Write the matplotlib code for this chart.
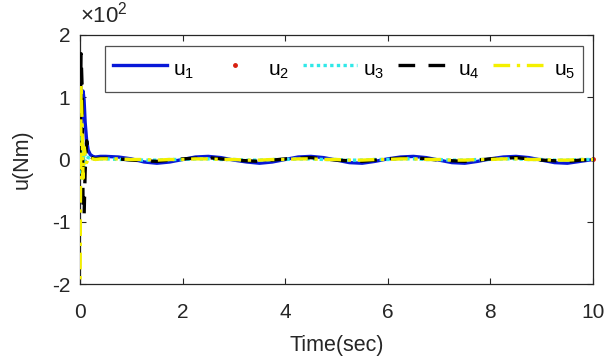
import matplotlib
matplotlib.use("Agg")
import matplotlib.pyplot as plt
import numpy as np

plt.rcParams['font.family'] = ['Liberation Sans', 'DejaVu Sans']
plt.rcParams['mathtext.fontset'] = 'custom'
plt.rcParams['mathtext.rm'] = 'Liberation Sans'
plt.rcParams['mathtext.it'] = 'Liberation Sans'
plt.rcParams['axes.unicode_minus'] = False

# time samples (sec)
t = [0, 0.02, 0.04, 0.06, 0.08, 0.10, 0.13, 0.16, 0.20, 0.25, 0.30, 0.40,
     0.5, 0.75, 1.0, 1.25, 1.5, 1.75, 2.0, 2.25, 2.5, 2.75, 3.0, 3.25, 3.5, 3.75,
     4.0, 4.25, 4.5, 4.75, 5.0, 5.25, 5.5, 5.75, 6.0, 6.25, 6.5, 6.75, 7.0, 7.25,
     7.5, 7.75, 8.0, 8.25, 8.5, 8.75, 9.0, 9.25, 9.5, 9.75, 10.0]

# control torques (Nm)
u1 = [0, 30, 80, 110, 95, 60, 30, 15, 8, 5, 4, 5,
      5, 4, 1, -4, -6, -4, 0, 4, 5, 3, -1, -4, -6, -4,
      0, 4, 5, 3, -1, -5, -6, -3, 1, 4, 5, 3, -1, -5,
      -6, -3, 1, 4, 5, 3, -1, -5, -6, -3, 0]
u2 = [0, 20, 10, -10, 5, 2, 1, 0, 0, 0, 0, 0,
      0, 0, 0, 0, 0, 0, 0, 0, 0, 0, 0, 0, 0, 0,
      0, 0, 0, 0, 0, 0, 0, 0, 0, 0, 0, 0, 0, 0,
      0, 0, 0, 0, 0, 0, 0, 0, 0, 0, 1]
u3 = [0, 50, -30, 20, -15, 10, 5, 3, 2, 1, 1, 1,
      1, 0, 0, -1, -1, 0, 0, 1, 1, 0, 0, -1, -1, 0,
      0, 1, 1, 0, 0, -1, -1, 0, 0, 1, 1, 0, 0, -1,
      -1, 0, 0, 1, 1, 0, 0, -1, -1, 0, 0]
u4 = [0, 170, 120, -80, -90, -20, 30, 15, 5, 2, 1, 2,
      2, 1, -1, -2, -3, -1, 1, 2, 3, 1, -1, -2, -3, -1,
      1, 2, 3, 1, -1, -2, -3, -1, 1, 2, 3, 1, -1, -2,
      -3, -1, 1, 2, 3, 1, -1, -2, -3, -1, 0]
u5 = [-230, 120, 60, -30, 20, 10, -5, 3, 2, 1, 0, 1,
      1, 1, 0, 0, -1, 0, 0, 1, 1, 0, 0, -1, -1, 0,
      0, 1, 1, 0, 0, -1, -1, 0, 0, 1, 1, 0, 0, -1,
      -1, 0, 0, 1, 1, 0, 0, -1, -1, 0, 0]

scale = 100.0
ta = np.array(t)

fig = plt.figure(figsize=(6.16, 3.61), dpi=100)
ax = fig.add_axes([80/616, 1-284/361, (593-80)/616, (284-35)/361])

ax.plot(ta, np.array(u1)/scale, color='#0818d8', lw=2.4, label='u$_1$', zorder=2)
ax.plot(ta, np.array(u2)/scale, linestyle='none', marker='.', ms=5, color='#d82010',
        label='u$_2$', zorder=1, clip_on=False, markevery=[len(t) - 1])
ax.plot(ta, np.array(u3)/scale, color='#30e8e8', lw=2.4, linestyle=(0, (1, 1)), label='u$_3$', zorder=3)
ax.plot(ta, np.array(u4)/scale, color='black', lw=2.4, linestyle=(0, (5, 4)), label='u$_4$', zorder=4)
ax.plot(ta, np.array(u5)/scale, color='#f4f000', lw=2.4, linestyle=(0, (5, 2, 1, 2)), label='u$_5$', zorder=5)

ax.set_xlim(0, 10)
ax.set_ylim(-2, 2)
ax.set_xticks([0, 2, 4, 6, 8, 10])
ax.set_yticks([-2, -1, 0, 1, 2])
ax.tick_params(direction='in', top=True, right=True, length=4, width=0.8,
               labelsize=15, colors='#262626')
ax.tick_params(axis='x', pad=14)
ax.tick_params(axis='y', pad=7)
for s in ax.spines.values():
    s.set_linewidth(0.9)
    s.set_color('#262626')

ax.set_xlabel('Time(sec)', fontsize=15.5, color='#262626', labelpad=9)
ax.set_ylabel('u(Nm)', fontsize=15.5, color='#262626', labelpad=14)
ax.text(0.0, 1.03, r'$\times$10$^2$', transform=ax.transAxes, fontsize=16,
        color='#262626', ha='left', va='bottom')

leg = ax.legend(loc='lower left', bbox_to_anchor=(25/513, 0.77, 478/513, 0.19),
                mode='expand', ncol=5, fontsize=15, frameon=True, fancybox=False,
                edgecolor='#262626', handlelength=2.6, handleheight=1.85,
                handletextpad=0.3, columnspacing=0.8, borderaxespad=0,
                borderpad=0.38)
leg.get_frame().set_linewidth(0.9)

fig.savefig('out.png', dpi=100)
